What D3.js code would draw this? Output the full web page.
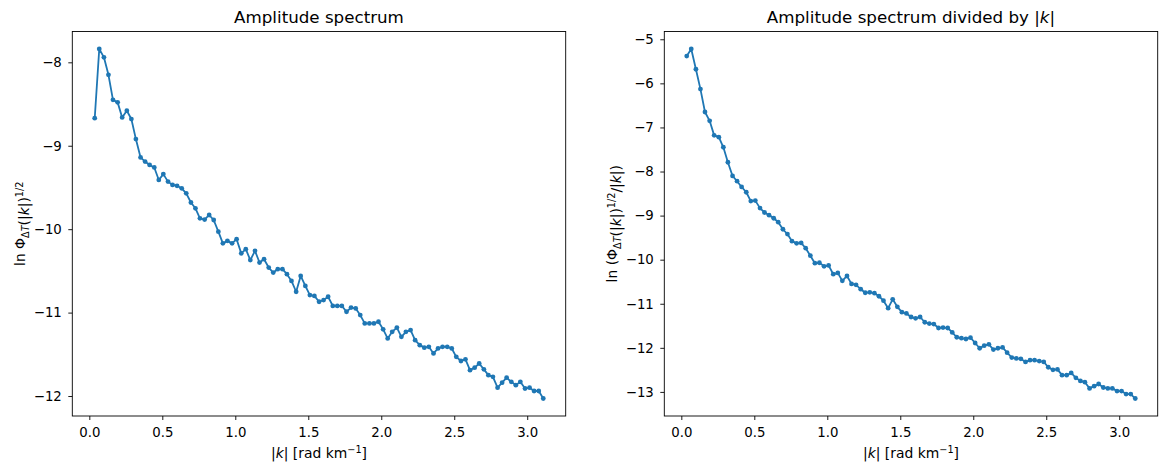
<!DOCTYPE html>
<html>
<head>
<meta charset="utf-8">
<script src="https://cdn.jsdelivr.net/npm/d3@7/dist/d3.min.js"></script>
<style>
  body { margin: 0; background: #fff; }
  svg text { font-family: "DejaVu Sans", sans-serif; fill: #000; }
</style>
</head>
<body>
<svg id="chart" width="1167" height="472"></svg>
<script>
// |k| en rad/km
const kVals = [0.037, 0.068, 0.100, 0.131, 0.162, 0.194, 0.225, 0.257, 0.288, 0.319,
  0.351, 0.382, 0.413, 0.445, 0.476, 0.507, 0.539, 0.570, 0.601, 0.633,
  0.664, 0.696, 0.727, 0.758, 0.790, 0.821, 0.852, 0.884, 0.915, 0.946,
  0.978, 1.009, 1.041, 1.072, 1.103, 1.135, 1.166, 1.197, 1.229, 1.260,
  1.291, 1.323, 1.354, 1.385, 1.417, 1.448, 1.480, 1.511, 1.542, 1.574,
  1.605, 1.636, 1.668, 1.699, 1.730, 1.762, 1.793, 1.825, 1.856, 1.887,
  1.919, 1.950, 1.981, 2.013, 2.044, 2.075, 2.107, 2.138, 2.169, 2.201,
  2.232, 2.264, 2.295, 2.326, 2.358, 2.389, 2.420, 2.452, 2.483, 2.514,
  2.546, 2.577, 2.608, 2.640, 2.671, 2.703, 2.734, 2.765, 2.797, 2.828,
  2.859, 2.891, 2.922, 2.953, 2.985, 3.016, 3.047, 3.079, 3.110];

// ln del espectro de amplitud
const ampVals = [-8.67, -7.84, -7.94, -8.15, -8.45, -8.48, -8.66, -8.58, -8.68, -8.92,
  -9.14, -9.19, -9.23, -9.26, -9.41, -9.34, -9.43, -9.47, -9.48, -9.51,
  -9.57, -9.68, -9.75, -9.87, -9.885, -9.83, -9.89, -10.03, -10.17, -10.14,
  -10.17, -10.12, -10.29, -10.24, -10.37, -10.26, -10.40, -10.36, -10.46, -10.52,
  -10.48, -10.48, -10.54, -10.62, -10.75, -10.56, -10.68, -10.79, -10.80, -10.87,
  -10.85, -10.81, -10.92, -10.92, -10.92, -10.99, -10.94, -10.95, -11.03, -11.13,
  -11.13, -11.13, -11.11, -11.20, -11.31, -11.23, -11.18, -11.29, -11.23, -11.21,
  -11.33, -11.39, -11.42, -11.41, -11.49, -11.43, -11.41, -11.41, -11.43, -11.53,
  -11.58, -11.56, -11.69, -11.66, -11.61, -11.68, -11.75, -11.77, -11.90, -11.84,
  -11.78, -11.83, -11.87, -11.83, -11.91, -11.90, -11.94, -11.94, -12.03];

// ln del espectro dividido por |k|
const ampDivVals = [-5.38, -5.22, -5.68, -6.13, -6.65, -6.85, -7.18, -7.22, -7.45, -7.79,
  -8.10, -8.22, -8.35, -8.47, -8.67, -8.66, -8.83, -8.93, -8.99, -9.06,
  -9.15, -9.31, -9.42, -9.58, -9.63, -9.62, -9.74, -9.91, -10.08, -10.07,
  -10.15, -10.13, -10.33, -10.30, -10.48, -10.37, -10.55, -10.57, -10.67, -10.75,
  -10.74, -10.76, -10.83, -10.93, -11.10, -10.90, -11.07, -11.19, -11.22, -11.30,
  -11.33, -11.30, -11.42, -11.45, -11.46, -11.55, -11.54, -11.55, -11.65, -11.76,
  -11.78, -11.80, -11.77, -11.89, -12.01, -11.95, -11.92, -12.04, -12.01, -11.99,
  -12.11, -12.22, -12.24, -12.25, -12.32, -12.28, -12.28, -12.30, -12.32, -12.44,
  -12.50, -12.49, -12.62, -12.62, -12.57, -12.68, -12.75, -12.78, -12.92, -12.87,
  -12.82, -12.90, -12.92, -12.92, -12.98, -12.98, -13.05, -13.05, -13.15];

const xTicks = [0, 0.5, 1, 1.5, 2, 2.5, 3];
const yTicksAmp = [-12, -11, -10, -9, -8];
const yTicksDiv = [-13, -12, -11, -10, -9, -8, -7, -6, -5];

const azul = "#1f77b4";
const svg = d3.select("#chart");
const anchoEje = 493.4, altoEje = 384.5, arriba = 31.5;
const fTick = "13.3px", fEtiq = "13.9px", fTitulo = "16.7px", fPeq = "9.7px";

// margen del 5% como matplotlib
function margenes(ext) {
  const r = ext[1] - ext[0];
  return [ext[0] - 0.05 * r, ext[1] + 0.05 * r];
}

const menos = s => s.replace("-", "\u2212");

function drawPanel(izq, xs, ys, yTicks, titulo, etiquetaY, xEtiquetaY) {
  const x = d3.scaleLinear().domain(margenes(d3.extent(xs))).range([izq, izq + anchoEje]);
  const y = d3.scaleLinear().domain(margenes(d3.extent(ys))).range([arriba + altoEje, arriba]);
  const g = svg.append("g");

  const ejeX = g.append("g")
    .attr("transform", `translate(0,${arriba + altoEje})`)
    .call(d3.axisBottom(x).tickValues(xTicks).tickFormat(d3.format(".1f"))
      .tickSize(4).tickPadding(7.2));
  const ejeY = g.append("g")
    .attr("transform", `translate(${izq},0)`)
    .call(d3.axisLeft(y).tickValues(yTicks).tickFormat(d => menos(String(d)))
      .tickSize(4).tickPadding(6.5));
  [ejeX, ejeY].forEach(e => {
    e.select(".domain").remove();
    e.selectAll("line").attr("stroke", "#000").attr("stroke-width", 0.9);
    e.selectAll("text").attr("font-size", fTick).attr("font-family", "DejaVu Sans").attr("fill", "#000");
  });

  const puntos = xs.map((d, i) => [d, ys[i]]);
  const linea = d3.line().x(d => x(d[0])).y(d => y(d[1]));
  g.append("path")
    .datum(puntos)
    .attr("fill", "none")
    .attr("stroke", azul)
    .attr("stroke-width", 1.8)
    .attr("stroke-linejoin", "round")
    .attr("d", linea);
  g.selectAll("circle")
    .data(puntos)
    .enter()
    .append("circle")
    .attr("cx", d => x(d[0]))
    .attr("cy", d => y(d[1]))
    .attr("r", 2.4)
    .attr("fill", azul);

  // marco
  g.append("rect")
    .attr("x", izq).attr("y", arriba)
    .attr("width", anchoEje).attr("height", altoEje)
    .attr("fill", "none").attr("stroke", "#000").attr("stroke-width", 0.9);

  // titulo
  const t = g.append("text")
    .attr("x", izq + anchoEje / 2).attr("y", 23)
    .attr("text-anchor", "middle").attr("font-size", fTitulo);
  titulo(t);

  // etiqueta x
  const tx = g.append("text")
    .attr("x", izq + anchoEje / 2).attr("y", 458)
    .attr("text-anchor", "middle").attr("font-size", fEtiq);
  tx.append("tspan").text("|");
  tx.append("tspan").attr("font-style", "italic").text("k");
  tx.append("tspan").text("| [rad km");
  tx.append("tspan").attr("dy", -5.5).attr("font-size", fPeq).text("\u22121");
  tx.append("tspan").attr("dy", 5.5).text("]");

  // etiqueta y
  const ty = g.append("text")
    .attr("transform", `translate(${xEtiquetaY},${arriba + altoEje / 2}) rotate(-90)`)
    .attr("text-anchor", "middle").attr("font-size", fEtiq);
  etiquetaY(ty);
}

function parteK(t) {
  t.append("tspan").text("(|");
  t.append("tspan").attr("font-style", "italic").text("k");
  t.append("tspan").text("|)");
  t.append("tspan").attr("dy", -6).attr("font-size", fPeq).text("1/2");
}

function subDeltaT(t) {
  t.append("tspan").attr("dy", 3.5).attr("font-size", fPeq).text("\u0394");
  t.append("tspan").attr("font-size", fPeq).attr("font-style", "italic").text("T");
  t.append("tspan").attr("dy", -3.5).text("");
}

drawPanel(72.3, kVals, ampVals, yTicksAmp,
  t => t.text("Amplitude spectrum"),
  t => {
    t.append("tspan").text("ln \u03A6");
    subDeltaT(t);
    parteK(t);
  }, 25);

drawPanel(664.3, kVals, ampDivVals, yTicksDiv,
  t => {
    t.append("tspan").text("Amplitude spectrum divided by |");
    t.append("tspan").attr("font-style", "italic").text("k");
    t.append("tspan").text("|");
  },
  t => {
    t.append("tspan").text("ln (\u03A6");
    subDeltaT(t);
    parteK(t);
    t.append("tspan").attr("dy", 6).text("/|");
    t.append("tspan").attr("font-style", "italic").text("k");
    t.append("tspan").text("|)");
  }, 617);
</script>
</body>
</html>
